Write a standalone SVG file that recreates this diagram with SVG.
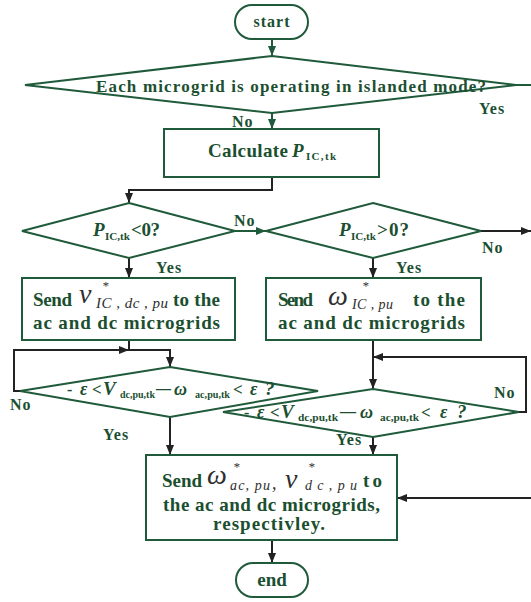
<svg xmlns="http://www.w3.org/2000/svg" width="531" height="602" viewBox="0 0 531 602">
<style>
.s{fill:#fff;stroke:#1f5a3a;stroke-width:2}
.c{fill:none;stroke:#222;stroke-width:2}
.cg{fill:none;stroke:#1f5a3a;stroke-width:2}
text{font-family:"Liberation Serif","Times New Roman",serif;font-weight:bold;fill:#1b4f30}
.t{font-size:19px}
.l{font-size:16px;letter-spacing:1px}
.sub{font-size:11px}
.m{font-weight:normal;font-style:italic;fill:#2e2e2e}
.bi{font-style:italic}
</style>
<defs>
<marker id="a" markerUnits="userSpaceOnUse" markerWidth="10" markerHeight="8" refX="10" refY="4" orient="auto">
<path d="M0,0 L10,4 L0,8 Z" fill="#222"/>
</marker>
<marker id="ag" markerUnits="userSpaceOnUse" markerWidth="10" markerHeight="8" refX="10" refY="4" orient="auto">
<path d="M0,0 L10,4 L0,8 Z" fill="#1f5a3a"/>
</marker>
</defs>

<g id="connectors">
<path class="cg" d="M272,39 V56" marker-end="url(#ag)"/>
<path class="cg" d="M516,85 H531"/>
<path class="cg" d="M272,113 V129" marker-end="url(#ag)"/>
<path class="c" d="M272,177 V190 H129 V203" marker-end="url(#a)"/>
<path class="cg" d="M235,231 H266" marker-end="url(#ag)"/>
<path class="c" d="M481,231 H531" marker-end="url(#a)"/>
<path class="c" d="M129,258 V278" marker-end="url(#a)"/>
<path class="c" d="M373,258 V278" marker-end="url(#a)"/>
<path class="c" d="M129,340 V350 H170 V367" marker-end="url(#a)"/>
<path class="c" d="M20,391 H14 V350 H129" marker-end="url(#a)"/>
<path class="c" d="M170,417 V455" marker-end="url(#a)"/>
<path class="c" d="M373,340 V389" marker-end="url(#a)"/>
<path class="c" d="M519,412 H526 V357 H373" marker-end="url(#a)"/>
<path class="c" d="M373,437 V455" marker-end="url(#a)"/>
<path class="c" d="M531,498 H397" marker-end="url(#a)"/>
<path class="c" d="M272,540 V563" marker-end="url(#a)"/>
</g>

<g id="labels">
<text class="l" x="479" y="114">Yes</text>
<text class="l" x="232" y="127">No</text>
<text class="l" x="234" y="226">No</text>
<text class="l" x="482" y="253">No</text>
<text class="l" x="156" y="273">Yes</text>
<text class="l" x="396" y="273">Yes</text>
<text class="l" x="10" y="410">No</text>
<text class="l" x="103" y="440">Yes</text>
<text class="l" x="494" y="398">No</text>
<text class="l" x="336" y="445">Yes</text>
</g>

<g id="start">
<rect class="s" x="235" y="5" width="73" height="34" rx="17"/>
<text class="l" x="272" y="27" text-anchor="middle">start</text>
</g>

<g id="islanded">
<polygon class="s" points="272,56 516,85 272,113 25,85"/>
<text x="96" y="92" font-size="17" textLength="390" lengthAdjust="spacing">Each microgrid is operating in islanded mode?</text>
</g>

<g id="calculate">
<rect class="s" x="164" y="129" width="215" height="48"/>
<text class="t" x="208" y="157" textLength="80" lengthAdjust="spacing">Calculate</text>
<text class="t bi" x="292" y="157">P</text>
<text class="sub" x="306" y="160" textLength="30" lengthAdjust="spacing">IC,tk</text>
</g>

<g id="pneg">
<polygon class="s" points="129,203 235,231 129,258 22,231"/>
<text class="t bi" x="93" y="236">P</text>
<text class="sub" x="105" y="240" textLength="25" lengthAdjust="spacingAndGlyphs">IC,tk</text>
<text class="t" x="131" y="236" textLength="29" lengthAdjust="spacing">&lt;0?</text>
</g>

<g id="ppos">
<polygon class="s" points="373,203 481,231 373,258 266,231"/>
<text class="t bi" x="339" y="236">P</text>
<text class="sub" x="351" y="240" textLength="25" lengthAdjust="spacingAndGlyphs">IC,tk</text>
<text class="t" x="377" y="236" textLength="32" lengthAdjust="spacing">&gt;0?</text>
</g>

<g id="sendv">
<rect class="s" x="22" y="278" width="213" height="62"/>
<text class="t" x="33" y="306" textLength="39" lengthAdjust="spacing">Send</text>
<text class="m" x="79" y="303" font-size="28">v</text>
<text class="m" x="102" y="290" font-size="13" font-style="normal">*</text>
<text class="m" x="96" y="308" font-size="15" textLength="72" lengthAdjust="spacing">IC , dc , pu</text>
<text class="t" x="173" y="306" textLength="47" lengthAdjust="spacing">to the</text>
<text class="t" x="33" y="329" textLength="187" lengthAdjust="spacing">ac and dc microgrids</text>
</g>

<g id="sendw">
<rect class="s" x="266" y="278" width="215" height="62"/>
<text class="t" x="278" y="306" textLength="35" lengthAdjust="spacing">Send</text>
<text class="m" x="328" y="305" font-size="28">ω</text>
<text class="m" x="362" y="290" font-size="13" font-style="normal">*</text>
<text class="m" x="352" y="309" font-size="14" textLength="41" lengthAdjust="spacing">IC , pu</text>
<text class="t" x="413" y="306" textLength="52" lengthAdjust="spacing">to the</text>
<text class="t" x="278" y="329" textLength="187" lengthAdjust="spacing">ac and dc microgrids</text>
</g>

<g id="check1">
<polygon class="s" points="170,367 318,391 170,417 20,391"/>
<text x="67" y="395" font-size="16">-</text>
<text class="bi" x="80" y="395" font-size="18">ε</text>
<text x="92" y="395" font-size="17" font-weight="normal">&lt;</text>
<text class="bi" x="103" y="395" font-size="19" font-weight="normal">V</text>
<text class="sub" x="120" y="398" font-size="10" textLength="35" lengthAdjust="spacingAndGlyphs">dc,pu,tk</text>
<text x="156" y="394" font-size="18" textLength="15" lengthAdjust="spacingAndGlyphs">—</text>
<text class="bi" x="174" y="395" font-size="18">ω</text>
<text class="sub" x="195" y="398" font-size="10" textLength="35" lengthAdjust="spacingAndGlyphs">ac,pu,tk</text>
<text x="233" y="395" font-size="17" font-weight="normal">&lt;</text>
<text class="bi" x="250" y="395" font-size="18">ε</text>
<text class="bi" x="265" y="395" font-size="19">?</text>
</g>

<g id="check2">
<polygon class="s" points="373,389 519,412 373,437 223,412"/>
<text x="244" y="418" font-size="16">-</text>
<text class="bi" x="257" y="418" font-size="18">ε</text>
<text x="270" y="418" font-size="17" font-weight="normal">&lt;</text>
<text class="bi" x="281" y="418" font-size="19" font-weight="normal">V</text>
<text class="sub" x="298" y="421" textLength="40" lengthAdjust="spacingAndGlyphs">dc,pu,tk</text>
<text x="340" y="417" font-size="18" textLength="16" lengthAdjust="spacingAndGlyphs">—</text>
<text class="bi" x="360" y="418" font-size="18">ω</text>
<text class="sub" x="380" y="421" textLength="39" lengthAdjust="spacingAndGlyphs">ac,pu,tk</text>
<text x="421" y="418" font-size="17" font-weight="normal">&lt;</text>
<text class="bi" x="440" y="418" font-size="18">ε</text>
<text class="bi" x="457" y="418" font-size="19">?</text>
</g>

<g id="sendboth">
<rect class="s" x="146" y="455" width="251" height="85"/>
<text class="t" x="162" y="487" textLength="40" lengthAdjust="spacing">Send</text>
<text class="m" x="207" y="484" font-size="28">ω</text>
<text class="m" x="233" y="471" font-size="13" font-style="normal">*</text>
<text class="m" x="230" y="490" font-size="14" textLength="40" lengthAdjust="spacing">ac, pu</text>
<text class="m" x="272" y="489" font-size="18">,</text>
<text class="m" x="285" y="488" font-size="28">v</text>
<text class="m" x="308" y="471" font-size="13" font-style="normal">*</text>
<text class="m" x="305" y="490" font-size="14" textLength="52" lengthAdjust="spacing">d c , p u</text>
<text class="t" x="363" y="487" textLength="19" lengthAdjust="spacing">to</text>
<text class="t" x="163" y="511" textLength="217" lengthAdjust="spacing">the ac and dc microgrids,</text>
<text class="t" x="213" y="530" textLength="112" lengthAdjust="spacing">respectivley.</text>
</g>

<g id="end">
<rect class="s" x="236" y="563" width="72" height="34" rx="17"/>
<text class="t" x="272" y="586" text-anchor="middle">end</text>
</g>
</svg>
